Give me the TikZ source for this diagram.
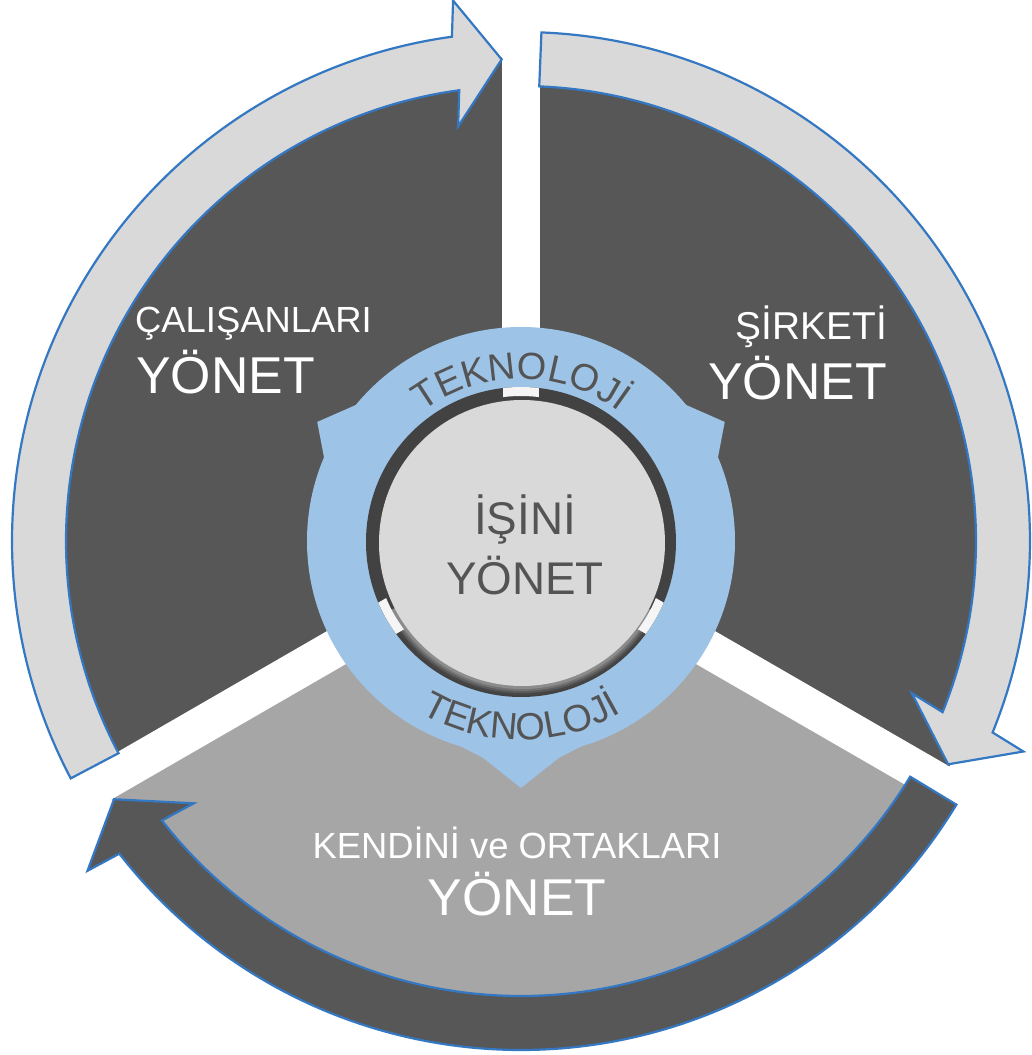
\documentclass[tikz,border=0pt]{standalone}
\usepackage{fontspec}
\setmainfont{Liberation Sans}
\usetikzlibrary{decorations.text,calc}
\definecolor{darkg}{RGB}{87,87,87}
\definecolor{arrowl}{RGB}{217,217,217}
\definecolor{secl}{RGB}{166,166,166}
\definecolor{blueb}{RGB}{52,120,195}
\definecolor{bluer}{RGB}{157,195,230}
\definecolor{ringc}{RGB}{66,66,66}
\definecolor{innerc}{RGB}{217,217,217}
\definecolor{textg}{RGB}{84,84,84}
\newcommand\cyclearrow[4]{%
  \draw[#4] (#1:509) arc[start angle=#1,end angle=#2,radius=509] -- ($(#2:482)+(#3:63)$) -- (#3:482) -- ($(#2:482)-(#3:63)$) -- (#2:455) arc[start angle=#2,end angle=#1,radius=455] -- cycle;}
\tikzset{
  arrowbox/.style={line width=2.2bp, draw=blueb, line join=miter},
  lbl/.style={text=white, inner sep=0pt},
  smalllbl/.style={font=\fontsize{36.5}{36.5}\selectfont},
  midlbl/.style={font=\fontsize{39}{39}\selectfont},
  biglbl/.style={font=\fontsize{52}{52}\selectfont},
  centerlbl/.style={text=textg, inner sep=0pt, font=\fontsize{46}{46}\selectfont},
}
\begin{document}
\begin{tikzpicture}[x=1bp,y=1bp]
\useasboundingbox (-521,-514) rectangle (511,541);
\fill[white] (-521,-514) rectangle (511,541);
% sectors
\fill[darkg] (0,0) -- (90:484) arc[start angle=90,end angle=210,radius=484] -- cycle;
\fill[darkg] (0,0) -- (-30:484) arc[start angle=-30,end angle=90,radius=484] -- cycle;
\fill[secl] (0,0) -- (210:484) arc[start angle=210,end angle=330,radius=484] -- cycle;
% gaps
\foreach \a in {90,210,330} \fill[white,rotate=\a] (0,-19) rectangle (560,19);
% cycle arrows
\cyclearrow{207.8}{97.8}{92.3}{arrowbox,fill=arrowl}
\cyclearrow{87.7}{-22.1}{-27.6}{arrowbox,fill=arrowl}
\cyclearrow{328.8}{217.9}{212.4}{arrowbox,fill=darkg}
% blue ring with three points
\fill[bluer] (0,0) circle (214);
\fill[bluer] (0,0) -- (140:213) -- (149.7:236) -- (157:214) -- cycle;
\fill[bluer] (0,0) -- (40:213) -- (30.3:236) -- (23:214) -- cycle;
\fill[bluer] (0,0) -- (252:213) -- (260:220) -- (270:247) -- (280:220) -- (288:213) -- cycle;
% dark ring and inner disc
\fill[ringc] (0,-1) circle (155);
\begin{scope}
  \clip (0,-1) -- (208:170) arc[start angle=208,end angle=332,radius=170] -- cycle;
  \foreach \r/\c in {152/72,150/64,148/55,146/45} \fill[black!\c!white] (1,-2) circle (\r);
\end{scope}
\fill[innerc] (1,-2) circle (143);
\begin{scope}[even odd rule]
  \clip (0,-1) circle (155) (0,-1) circle (146);
  \foreach \a in {90,210,330} \fill[white!92!gray,rotate=\a] (0,-18) rectangle (200,18);
\end{scope}
% curved texts
\path[decorate,decoration={text along path,text align=center,
  text={|\color{textg}\fontsize{38}{38}\selectfont|TEKNOLOJİ}}]
  (150:162) arc[start angle=150,end angle=30,radius=162];
\path[decorate,decoration={text along path,text align=center,
  text={|\color{textg}\fontsize{38}{38}\selectfont|TEKNOLOJİ}}]
  (212:199) arc[start angle=212,end angle=328,radius=199];
% center text
\node[centerlbl, anchor=base] (isini) at (4,7) {İŞİNİ};
\node[centerlbl, anchor=base] (yonetc) at (4,-53) {YÖNET};
% labels
\node[lbl, smalllbl, anchor=base west] (cal) at (-386,208) {ÇALIŞANLARI};
\node[lbl, biglbl, anchor=base west] (y1) at (-385,147) {YÖNET};
\node[lbl, midlbl, anchor=base east] (sir) at (366,201) {ŞİRKETİ};
\node[lbl, biglbl, anchor=base east] (y2) at (366,141) {YÖNET};
\node[lbl, smalllbl, anchor=base] (ken) at (-4,-317) {KENDİNİ ve ORTAKLARI};
\node[lbl, biglbl, anchor=base] (y3) at (-4,-374) {YÖNET};
\end{tikzpicture}
\end{document}
